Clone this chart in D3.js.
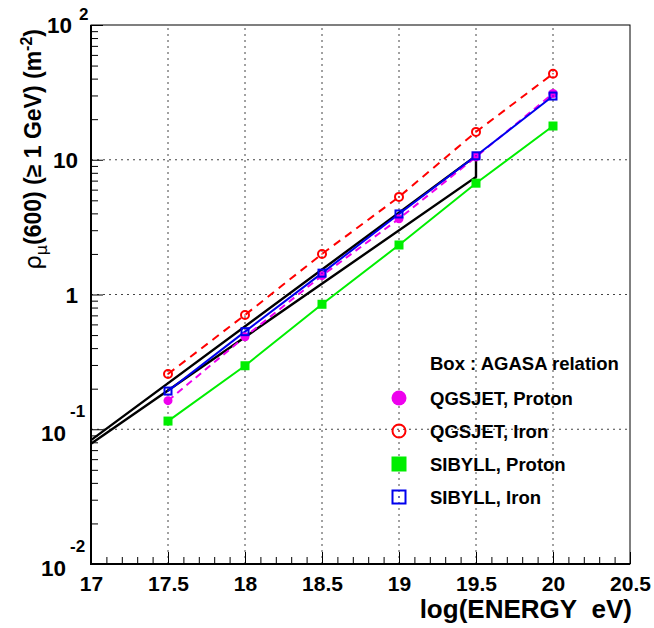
<!DOCTYPE html>
<html>
<head>
<meta charset="utf-8">
<script src="https://cdn.jsdelivr.net/npm/d3@7"></script>
<style>
  body { margin: 0; background: #fff; }
  svg { font-family: "Liberation Sans", Arial, sans-serif; }
</style>
</head>
<body>
<svg id="vis"></svg>
<script>
(function() {
  var width = 654, height = 628;

  // data
  var energies = [17.5, 18, 18.5, 19, 19.5, 20];
  var qgsjetProton = [0.163, 0.486, 1.38, 3.65, 10.5, 31];
  var qgsjetIron   = [0.257, 0.705, 2.0, 5.3, 16.1, 43.5];
  var sibyllProton = [0.115, 0.296, 0.846, 2.33, 6.7, 17.8];
  var sibyllIron   = [0.192, 0.53, 1.44, 3.96, 10.7, 29.7];
  // AGASA relation box: upper and lower edge
  var agasaE     = [17, 19.5];
  var agasaUpper = [0.083, 10.7];
  var agasaLower = [0.078, 7.45];

  var xTicks = [17, 17.5, 18, 18.5, 19, 19.5, 20, 20.5];
  var yTicks = [0.01, 0.1, 1, 10, 100];
  var yTickBase = ["10", "10", "1", "10", "10"];
  var yTickExp  = ["-2", "-1", "", "", "2"];
  var legendLabels = ["QGSJET, Proton", "QGSJET, Iron", "SIBYLL, Proton", "SIBYLL, Iron"];

  var chart = d3.select("#vis")
    .attr("width", width)
    .attr("height", height);

  var left = 91, right = 630, top = 25, bottom = 564;

  var x = d3.scaleLinear().domain([17, 20.5]).range([left, right]);
  var y = d3.scaleLog().domain([0.01, 100]).range([bottom, top]);

  //grid lines
  var grid = chart.append("g")
    .attr("stroke", "#444")
    .attr("stroke-width", 1)
    .attr("stroke-dasharray", "2,4");
  grid.selectAll(".gx")
    .data(xTicks.slice(1, -1))
    .enter().append("line")
    .attr("x1", function(d) { return x(d); })
    .attr("x2", function(d) { return x(d); })
    .attr("y1", bottom).attr("y2", top);
  grid.selectAll(".gy")
    .data(yTicks.slice(1, -1))
    .enter().append("line")
    .attr("y1", function(d) { return y(d); })
    .attr("y2", function(d) { return y(d); })
    .attr("x1", left).attr("x2", right);

  //minor ticks
  var xMinor = d3.range(171, 205).map(function(d) { return d / 10; })
    .filter(function(d) { return Math.abs(d * 2 - Math.round(d * 2)) > 1e-6; });
  chart.append("g")
    .attr("transform", "translate(0," + bottom + ")")
    .call(d3.axisBottom(x).tickValues(xMinor).tickSize(-7).tickFormat(""))
    .call(function(g) { g.select(".domain").remove(); });

  var yMinor = [];
  [0.01, 0.1, 1, 10].forEach(function(dec) {
    for (var k = 2; k <= 9; k++) yMinor.push(dec * k);
  });
  chart.append("g")
    .attr("transform", "translate(" + left + ",0)")
    .call(d3.axisLeft(y).tickValues(yMinor).tickSize(-7).tickFormat(""))
    .call(function(g) { g.select(".domain").remove(); });

  //major x axis with labels
  var xAxis = chart.append("g")
    .attr("transform", "translate(0," + bottom + ")")
    .call(d3.axisBottom(x).tickValues(xTicks).tickSize(-12).tickPadding(12)
      .tickFormat(function(d) { return d; }));
  xAxis.select(".domain").remove();
  xAxis.selectAll("text")
    .attr("font-size", 21)
    .attr("font-weight", "bold")
    .attr("font-family", "Liberation Sans, Arial, sans-serif")
    .attr("fill", "#000");

  var yAxis = chart.append("g")
    .attr("transform", "translate(" + left + ",0)")
    .call(d3.axisLeft(y).tickValues(yTicks).tickSize(-12).tickFormat(""));
  yAxis.select(".domain").remove();

  //frame
  chart.append("rect")
    .attr("x", left).attr("y", top)
    .attr("width", right - left).attr("height", bottom - top)
    .attr("fill", "none").attr("stroke", "#000").attr("stroke-width", 1);
  chart.append("path")
    .attr("d", "M" + left + "," + top + "V" + bottom + "H" + right)
    .attr("fill", "none").attr("stroke", "#000").attr("stroke-width", 2);

  //y tick labels with exponents
  var yl = chart.append("g")
    .attr("font-weight", "bold")
    .attr("fill", "#000");
  yTicks.forEach(function(v, i) {
    var yy = y(v);
    var neg = yTickExp[i].charAt(0) === "-";
    var baseRight = neg ? 66 : 78;
    if (i === 4) baseRight = 72;
    yl.append("text")
      .attr("x", baseRight).attr("y", yy + (neg ? 12 : 8))
      .attr("text-anchor", "end")
      .attr("font-size", 22.5)
      .text(yTickBase[i]);
    if (yTickExp[i]) {
      yl.append("text")
        .attr("x", neg ? 70 : 79).attr("y", neg ? yy - 12 : yy - 5)
        .attr("font-size", 17)
        .text(yTickExp[i]);
    }
  });

  //axis titles
  chart.append("text")
    .attr("x", right + 2).attr("y", 618)
    .attr("text-anchor", "end")
    .attr("font-size", 26)
    .attr("font-weight", "bold")
    .text("log(ENERGY\u00a0\u00a0eV)");

  var yt = chart.append("text")
    .attr("transform", "translate(41,29) rotate(-90)")
    .attr("text-anchor", "end")
    .attr("font-size", 23)
    .attr("font-weight", "bold");
  yt.append("tspan").attr("font-weight", "normal").attr("font-family", "DejaVu Sans, sans-serif").text("\u03c1");
  yt.append("tspan").attr("font-weight", "normal").attr("font-family", "DejaVu Sans, sans-serif")
    .attr("font-size", 16).attr("dy", 6).text("\u03bc");
  yt.append("tspan").attr("dy", -6).text("(600) (\u2265 1 GeV) (m");
  yt.append("tspan").attr("font-size", 16).attr("dy", -9).text("-2");
  yt.append("tspan").attr("dy", 9).text(")");

  //curves
  var line = d3.line()
    .x(function(d) { return x(d[0]); })
    .y(function(d) { return y(d[1]); });
  function pairs(xs, ys) { return xs.map(function(e, i) { return [e, ys[i]]; }); }

  var plot = chart.append("g");

  // AGASA box
  plot.append("path")
    .attr("d", line(pairs(agasaE, agasaUpper)) + "L" + x(agasaE[1]) + "," + y(agasaLower[1]) +
      "L" + x(agasaE[0]) + "," + y(agasaLower[0]))
    .attr("fill", "none").attr("stroke", "#000").attr("stroke-width", 2.4);

  var series = [
    { vals: sibyllProton, color: "#00ee00", dash: null },
    { vals: qgsjetProton, color: "#ee00ee", dash: "7,5" },
    { vals: qgsjetIron, color: "#ff0000", dash: "8,6" },
    { vals: sibyllIron, color: "#0000ee", dash: null }
  ];
  series.forEach(function(s) {
    plot.append("path")
      .attr("d", line(pairs(energies, s.vals)))
      .attr("fill", "none").attr("stroke", s.color).attr("stroke-width", 2)
      .attr("stroke-dasharray", s.dash);
  });

  function drawMarker(g, kind, cx, cy, size) {
    if (kind === 0) {
      g.append("circle").attr("cx", cx).attr("cy", cy).attr("r", size / 2).attr("fill", "#ee00ee");
    } else if (kind === 1) {
      g.append("circle").attr("cx", cx).attr("cy", cy).attr("r", size / 2 - 1)
        .attr("fill", "none").attr("stroke", "#ff0000").attr("stroke-width", 2);
      g.append("circle").attr("cx", cx).attr("cy", cy).attr("r", 0.8).attr("fill", "#ff0000");
    } else if (kind === 2) {
      g.append("rect").attr("x", cx - size / 2).attr("y", cy - size / 2)
        .attr("width", size).attr("height", size).attr("fill", "#00ee00");
    } else {
      g.append("rect").attr("x", cx - size / 2 + 1).attr("y", cy - size / 2 + 1)
        .attr("width", size - 2).attr("height", size - 2)
        .attr("fill", "none").attr("stroke", "#0000ee").attr("stroke-width", 2);
      g.append("circle").attr("cx", cx).attr("cy", cy).attr("r", 0.7).attr("fill", "#0000ee");
    }
  }

  var markerData = [qgsjetProton, qgsjetIron, sibyllProton, sibyllIron];
  [2, 0, 1, 3].forEach(function(k) {
    markerData[k].forEach(function(v, i) {
      drawMarker(plot, k, x(energies[i]), y(v), k === 1 ? 10 : 9);
    });
  });

  //legend
  var legend = chart.append("g")
    .attr("font-size", 18.5)
    .attr("font-weight", "bold");
  legend.append("text").attr("x", 430).attr("y", 370).text("Box : AGASA relation");
  var legY = [398, 431, 464, 497];
  legendLabels.forEach(function(lab, i) {
    drawMarker(legend, i, 399, legY[i], 15);
    legend.append("text").attr("x", 430).attr("y", legY[i] + 7).text(lab);
  });

}());
</script>
</body>
</html>
